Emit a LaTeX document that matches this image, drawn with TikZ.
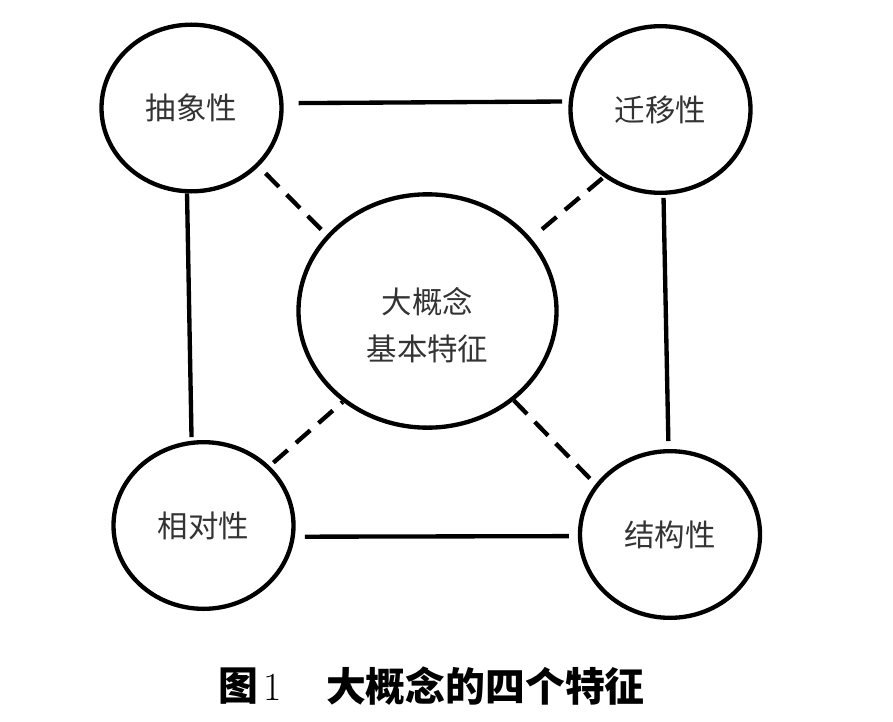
\documentclass[tikz,border=0pt]{standalone}
\usepackage{fontspec}
\newfontfamily\cjk{Noto Sans CJK SC}
\usetikzlibrary{shapes.geometric}
\begin{document}
\begin{tikzpicture}[x=0.3mm,y=-0.3mm,
  trait/.style={draw, ellipse, line width=1.3mm, inner sep=0pt,
    minimum width=54mm, minimum height=50mm,
    font=\cjk\fontsize{26}{30}\selectfont, text=black!80},
  core/.style={trait, minimum width=77.4mm, minimum height=70mm,
    align=center, text height=86pt, font=\cjk\fontsize{26}{40}\selectfont},
  link/.style={line width=1.3mm},
  weak/.style={link, dash pattern=on 5.7mm off 3.3mm}]
  \useasboundingbox (0,0) rectangle (893,722);
  \node[trait] (abs) at (191.5,108) {抽象性};
  \node[trait] (tra) at (660.5,109.5) {迁移性};
  \node[trait] (rel) at (203.5,525.5) {相对性};
  \node[trait] (str) at (670,534.5) {结构性};
  \node[core] (cen) at (427.5,311) {大概念\\基本特征};
  % outer square
  \draw[link, shorten <=4.5mm, shorten >=2mm] (abs.3) -- (tra.175);
  \draw[link, shorten <=3mm, shorten >=2.7mm] (rel.-7) -- (str.181);
  \draw[link, shorten >=1.1mm] (abs.-93) -- (rel.98);
  \draw[link, shorten <=0.9mm, shorten >=2.4mm] (tra.-88) -- (str.91);
  % to the centre
  \draw[weak, shorten <=2.9mm] (abs.-41.5) -- (cen.143);
  \draw[weak, shorten <=0.6mm, shorten >=3mm] (tra.230) -- (cen.35.6);
  \draw[weak, shorten <=1.5mm] (rel.42.8) -- (cen.227.6);
  \draw[weak, shorten >=1.4mm] (cen.-46) -- (str.146);
  % caption
  \node[anchor=west, font=\fontsize{34}{40}\selectfont] (fignum) at (214,686)
    {{\cjk\bfseries 图}\hspace{1.8mm}1};
  \node[anchor=west, font=\cjk\bfseries\fontsize{34}{40}\selectfont] (figtitle)
    at (322,686) {大概念的四个特征};
\end{tikzpicture}
\end{document}
